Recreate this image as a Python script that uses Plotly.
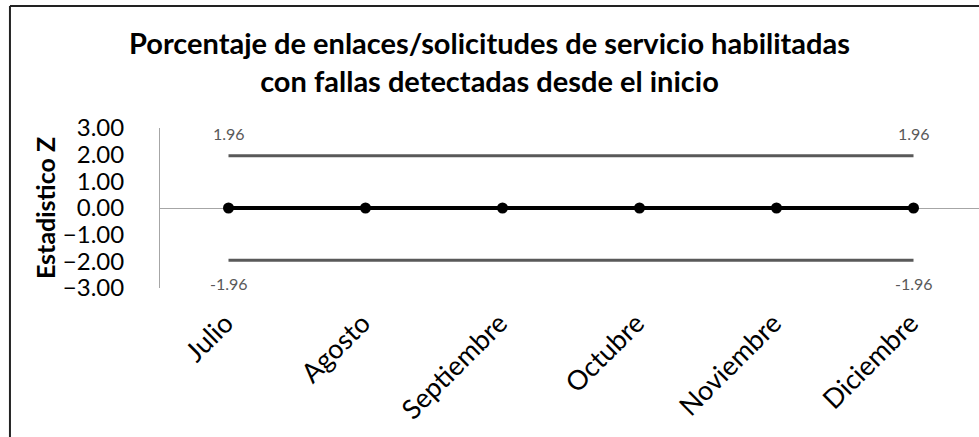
import plotly.graph_objs as go

# Data
meses = ['Julio', 'Agosto', 'Septiembre', 'Octubre', 'Noviembre', 'Diciembre']
estadistico_z = [0.00, 0.00, 0.00, 0.00, 0.00, 0.00]
limite_sup = [1.96, 1.96, 1.96, 1.96, 1.96, 1.96]
limite_inf = [-1.96, -1.96, -1.96, -1.96, -1.96, -1.96]
y_ticks = [3, 2, 1, 0, -1, -2, -3]

FONT = 'Lato'
GRIS = '#595959'

traces = [
    go.Scatter(x=meses, y=limite_sup, mode='lines',
               line=dict(color=GRIS, width=3), hoverinfo='x+y'),
    go.Scatter(x=meses, y=limite_inf, mode='lines',
               line=dict(color=GRIS, width=3), hoverinfo='x+y'),
    go.Scatter(x=meses, y=estadistico_z, mode='lines+markers',
               line=dict(color='black', width=4),
               marker=dict(color='black', size=11),
               cliponaxis=False, hoverinfo='x+y'),
]

# data labels only on first and last point of the limit lines
etiquetas = []
for serie, desp in [(limite_sup, 22), (limite_inf, -23)]:
    for i in (0, len(meses) - 1):
        etiquetas.append(dict(x=meses[i], y=serie[i], text='%.2f' % serie[i],
                              showarrow=False, yshift=desp,
                              font=dict(family=FONT, size=16, color=GRIS)))

layout = go.Layout(
    width=979, height=437,
    margin=dict(l=160, r=0, t=128, b=149),
    paper_bgcolor='white', plot_bgcolor='white',
    showlegend=False,
    hovermode='closest',
    title=dict(text='<b>Porcentaje de enlaces/solicitudes de servicio habilitadas<br>'
                    'con fallas detectadas desde el inicio</b>',
               x=0.5, xref='container', xanchor='center',
               y=0.876, yref='container', yanchor='middle',
               font=dict(family=FONT, size=29, color='black')),
    xaxis=dict(type='category', range=[-0.5, 5.478],
               showline=False, showgrid=False, zeroline=False,
               ticks='', tickangle=-45,
               ticklabelstandoff=13, ticklabelshift=-3,
               tickfont=dict(family=FONT, size=27, color='black')),
    yaxis=dict(range=[-3, 3], tickvals=y_ticks, tickformat='.2f',
               showgrid=False, showline=True, linecolor='#a6a6a6', linewidth=1,
               zeroline=True, zerolinecolor='#a6a6a6', zerolinewidth=1,
               ticks='', ticklabelstandoff=30,
               tickfont=dict(family=FONT, size=24, color='black'),
               title=dict(text='<b>Estadistico Z</b>', standoff=0,
                          font=dict(family=FONT, size=25, color='black'))),
    annotations=etiquetas,
    shapes=[
        dict(type='line', xref='paper', yref='paper', x0=-0.1832, x1=1.01,
             y0=1.7625, y1=1.7625, line=dict(color='#222222', width=2)),
        dict(type='line', xref='paper', yref='paper', x0=-0.1832, x1=-0.1832,
             y0=1.7625, y1=-1.0, line=dict(color='#222222', width=2)),
    ],
)

fig = go.Figure(data=traces, layout=layout)
fig.write_html('out.html', config={'displayModeBar': False},
               post_script="document.body.style.margin='0';")
